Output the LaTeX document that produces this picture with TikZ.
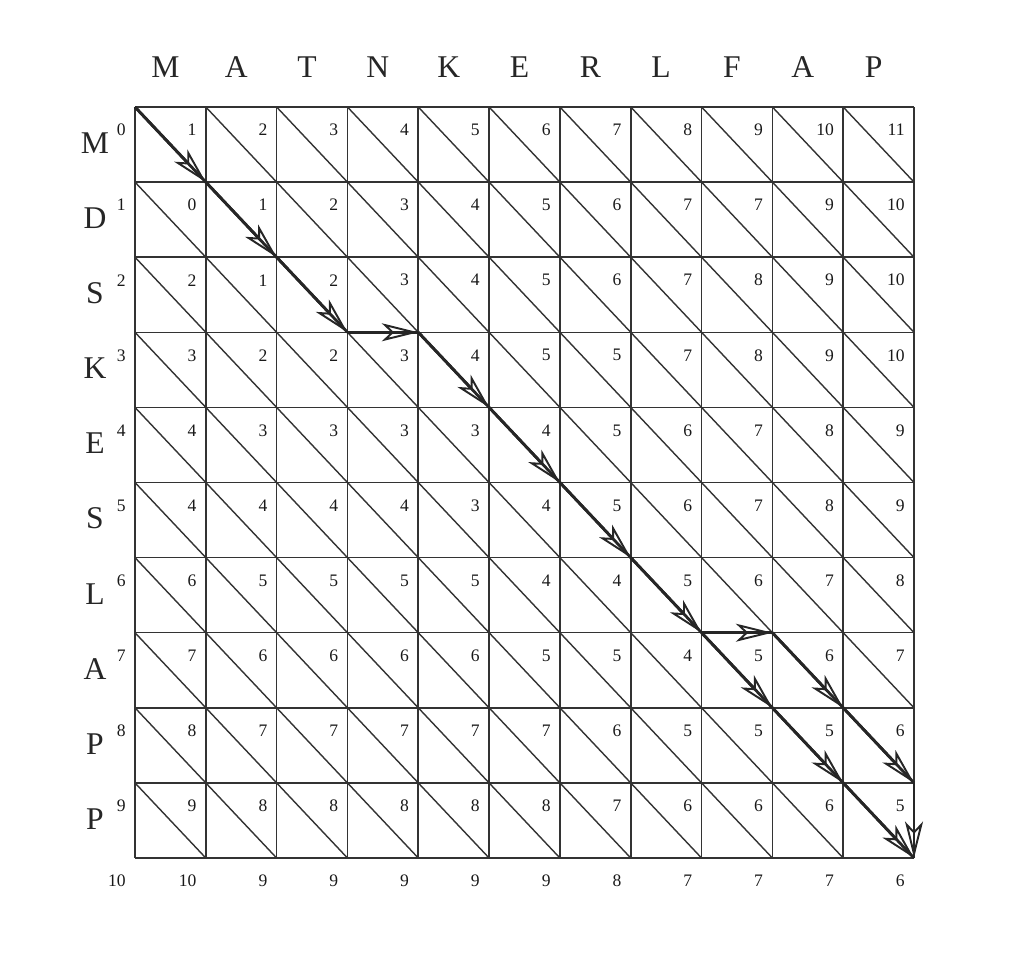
\documentclass[tikz,border=0pt]{standalone}
\usepackage{fontspec}
\setmainfont{Liberation Serif}
\usetikzlibrary{arrows.meta}

\begin{document}
\begin{tikzpicture}[
    x=1.4164cm, y=-1.502cm,
    letter/.style={font=\fontsize{18}{20}\selectfont, text=black!85},
    num/.style={font=\fontsize{10}{12}\selectfont, text=black!90, anchor=east, inner sep=0pt, xshift=-0.18cm, yshift=-0.46cm},
    gridline/.style={draw=black!80, line width=0.9pt},
    diag/.style={draw=black!80, line width=0.8pt},
    trail/.style={draw=black!85, line width=1.6pt, postaction={draw, -{Stealth[open, length=7.3mm, width=3.6mm, inset=1.9mm, line width=1.1pt]}}}
]
\useasboundingbox (-2.70cm,2.14cm) rectangle (17.52cm,-17.02cm);

% grid and cell diagonals
\foreach \j in {0,...,11} \draw[gridline] (\j,0) -- (\j,10);
\foreach \i in {0,...,10} \draw[gridline] (0,\i) -- (11,\i);
\foreach \i in {0,...,9} \foreach \j in {0,...,10} \draw[diag] (\j,\i) -- ++(1,1);

% vertices
\foreach \i in {0,...,10} \foreach \j in {0,...,11} \coordinate (v\j-\i) at (\j,\i);

% words
\foreach \c [count=\j from 0] in {M,A,T,N,K,E,R,L,F,A,P}
    \node[letter, xshift=-0.1cm] (col\j) at ({\j+0.5},-0.526) {\c};
\foreach \c [count=\i from 0] in {M,D,S,K,E,S,L,A,P,P}
    \node[letter] (row\i) at (-0.565,{\i+0.48}) {\c};

% distances
\foreach \vals [count=\i from 0] in {
    {0,1,2,3,4,5,6,7,8,9,10,11},
    {1,0,1,2,3,4,5,6,7,7,9,10},
    {2,2,1,2,3,4,5,6,7,8,9,10},
    {3,3,2,2,3,4,5,5,7,8,9,10},
    {4,4,3,3,3,3,4,5,6,7,8,9},
    {5,4,4,4,4,3,4,5,6,7,8,9},
    {6,6,5,5,5,5,4,4,5,6,7,8},
    {7,7,6,6,6,6,5,5,4,5,6,7},
    {8,8,7,7,7,7,7,6,5,5,5,6},
    {9,9,8,8,8,8,8,7,6,6,6,5},
    {10,10,9,9,9,9,9,8,7,7,7,6}}
    \foreach \v [count=\j from 0] in \vals
        \node[num] (n\j-\i) at (v\j-\i) {\v};

% alignment path
\draw[trail] (v0-0) -- (v1-1);
\draw[trail] (v1-1) -- (v2-2);
\draw[trail] (v2-2) -- (v3-3);
\draw[trail] (v3-3) -- (v4-3);
\draw[trail] (v4-3) -- (v5-4);
\draw[trail] (v5-4) -- (v6-5);
\draw[trail] (v6-5) -- (v7-6);
\draw[trail] (v7-6) -- (v8-7);
\draw[trail] (v8-7) -- (v9-7);
\draw[trail] (v8-7) -- (v9-8);
\draw[trail] (v9-7) -- (v10-8);
\draw[trail] (v9-8) -- (v10-9);
\draw[trail] (v10-8) -- (v11-9);
\draw[trail] (v10-9) -- (v11-10);
\draw[trail] (v11-9) -- (v11-10);
\end{tikzpicture}
\end{document}
